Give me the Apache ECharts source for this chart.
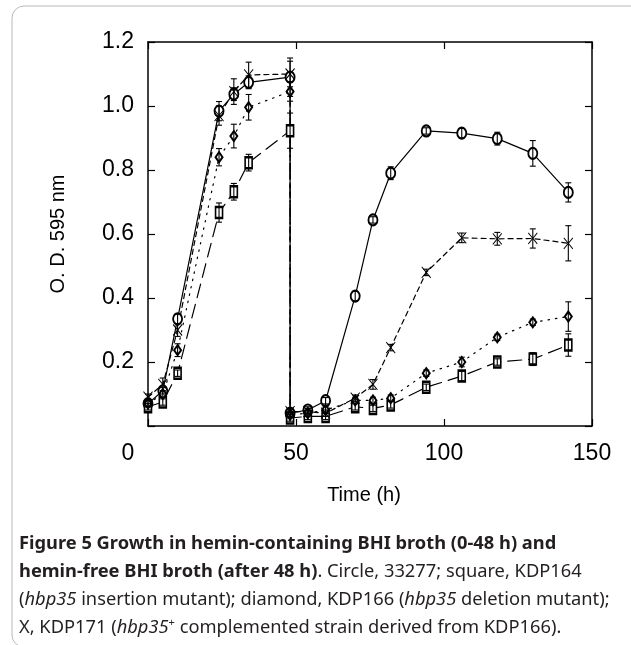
<!DOCTYPE html>
<html>
<head>
<meta charset="utf-8">
<script src="https://cdn.jsdelivr.net/npm/echarts@6/dist/echarts.min.js"></script>
<style>
html,body{margin:0;padding:0;background:#fff;}
#main{width:631px;height:645px;}
</style>
</head>
<body>
<div id="main"></div>
<script>
// Sampling times (h); 48 h appears twice: end of hemin phase and start of hemin-free phase
const times = [0, 5, 10, 24, 29, 34, 48, 48, 54, 60, 70, 76, 82, 94, 106, 118, 130, 142];

// Circle, 33277
const circleOD  = [0.07, 0.11, 0.335, 0.984, 1.037, 1.074, 1.09, 0.04, 0.05, 0.079, 0.406, 0.644, 0.79, 0.922, 0.915, 0.898, 0.852, 0.73];
const circleErr = [0.01, 0.01, 0.015, 0.03, 0.02, 0.02, 0.06, 0.01, 0.01, 0.01, 0.015, 0.01, 0.02, 0.01, 0.015, 0.02, 0.04, 0.03];

// Square, KDP164
const squareOD  = [0.06, 0.075, 0.165, 0.667, 0.732, 0.823, 0.923, 0.025, 0.03, 0.03, 0.06, 0.055, 0.066, 0.121, 0.156, 0.20, 0.209, 0.253];
const squareErr = [0.01, 0.01, 0.01, 0.03, 0.026, 0.026, 0.055, 0.01, 0.01, 0.01, 0.01, 0.01, 0.01, 0.01, 0.015, 0.01, 0.02, 0.035];

// Diamond, KDP166
const diamondOD  = [0.07, 0.10, 0.237, 0.84, 0.906, 0.996, 1.045, 0.035, 0.04, 0.05, 0.08, 0.08, 0.087, 0.165, 0.20, 0.277, 0.324, 0.342];
const diamondErr = [0.01, 0.01, 0.02, 0.027, 0.037, 0.04, 0.03, 0.01, 0.01, 0.01, 0.01, 0.01, 0.01, 0.01, 0.015, 0.01, 0.01, 0.046];

// X, KDP171
const xOD  = [0.09, 0.13, 0.30, 0.97, 1.045, 1.097, 1.10, 0.045, 0.045, 0.04, 0.087, 0.13, 0.245, 0.48, 0.588, 0.585, 0.586, 0.571];
const xErr = [0.01, 0.02, 0.02, 0.03, 0.04, 0.04, 0.04, 0.01, 0.01, 0.01, 0.01, 0.015, 0.01, 0.01, 0.015, 0.02, 0.03, 0.055];

const xTicks = [0, 50, 100, 150];
const yTicks = [0, 0.2, 0.4, 0.6, 0.8, 1.0, 1.2];

const strains = [
  {name: '33277',  od: circleOD,  err: circleErr,  symbol: 'emptyCircle',  size: [9, 11], dash: 'solid'},
  {name: 'KDP164', od: squareOD,  err: squareErr,  symbol: 'emptyRect',    size: [7, 11], dash: [14, 7]},
  {name: 'KDP166', od: diamondOD, err: diamondErr, symbol: 'emptyDiamond', size: [7, 10], dash: [1.5, 6]},
  {name: 'KDP171', od: xOD,       err: xErr,       symbol: 'path://M0,0L10,12M10,0L0,12', size: [9, 11], dash: [5, 4]}
];

const series = [];
strains.forEach(function (s) {
  series.push({
    type: 'line',
    name: s.name,
    data: times.map(function (t, i) { return [t, s.od[i]]; }),
    symbol: s.symbol,
    symbolSize: s.size,
    showAllSymbol: true,
    lineStyle: {color: '#000', width: 1.2, type: s.dash, cap: 'round'},
    itemStyle: {color: '#000', borderColor: '#000', borderWidth: 1},
    z: 2,
    animation: false
  });
  series.push({
    type: 'custom',
    name: s.name + ' err',
    data: times.map(function (t, i) { return [t, s.od[i], s.err[i]]; }),
    renderItem: function (params, api) {
      const t = api.value(0), v = api.value(1), e = api.value(2);
      const top = api.coord([t, v + e]);
      const bot = api.coord([t, v - e]);
      const cw = 3;
      const st = {stroke: '#000', lineWidth: 1.1};
      return {
        type: 'group',
        children: [
          {type: 'line', shape: {x1: top[0], y1: top[1], x2: bot[0], y2: bot[1]}, style: st},
          {type: 'line', shape: {x1: top[0] - cw, y1: top[1], x2: top[0] + cw, y2: top[1]}, style: st},
          {type: 'line', shape: {x1: bot[0] - cw, y1: bot[1], x2: bot[0] + cw, y2: bot[1]}, style: st}
        ]
      };
    },
    z: 3,
    animation: false
  });
});

const axisFont = {fontFamily: 'Liberation Sans, Arial, sans-serif', fontSize: 23, color: '#000'};
const capFont = "'Noto Sans', sans-serif";
const capSize = 18.3;
const rich = {
  b: {fontFamily: capFont, fontSize: capSize, fontWeight: 'bold', fill: '#231f20'},
  r: {fontFamily: capFont, fontSize: capSize, fill: '#231f20'},
  i: {fontFamily: capFont, fontSize: capSize, fontStyle: 'italic', fill: '#231f20'},
  s: {fontFamily: capFont, fontSize: 11, fill: '#231f20', padding: [0, 0, 10, 0]}
};
const capLines = [
  '{b|Figure 5 Growth in hemin-containing BHI broth (0-48 h) and}',
  '{b|hemin-free BHI broth (after 48 h)}{r|. Circle, 33277; square, KDP164}',
  '{r|(}{i|hbp35}{r| insertion mutant); diamond, KDP166 (}{i|hbp35}{r| deletion mutant);}',
  '{r|X, KDP171 (}{i|hbp35}{s|+}{r| complemented strain derived from KDP166).}'
];
const capY = [544, 572, 600, 627.5];

const tickStyle = {show: true, inside: true, length: 7, lineStyle: {color: '#000', width: 1.2}};
const lineStyleAxis = {show: true, onZero: false, lineStyle: {color: '#000', width: 1.5}};

const chart = echarts.init(document.getElementById('main'), null, {renderer: 'canvas'});
chart.setOption({
  backgroundColor: '#fff',
  animation: false,
  grid: {left: 148, right: 39, top: 42, bottom: 219, show: false},
  xAxis: [{
    type: 'value', position: 'bottom', min: xTicks[0], max: xTicks[xTicks.length - 1], interval: 50,
    name: 'Time (h)', nameLocation: 'middle', nameGap: 59,
    nameTextStyle: {fontFamily: 'Liberation Sans, Arial, sans-serif', fontSize: 20, color: '#000', padding: [0, 12, 0, 0]},
    axisLine: lineStyleAxis,
    axisTick: tickStyle,
    splitLine: {show: false},
    axisLabel: Object.assign({}, axisFont, {
      margin: 16,
      formatter: function (v) { return v === 0 ? '{z|0}' : String(v); },
      rich: {z: {fontFamily: 'Liberation Sans, Arial, sans-serif', fontSize: 23, color: '#000', padding: [0, 40, 0, 0]}}
    })
  }, {
    type: 'value', position: 'top', min: xTicks[0], max: xTicks[xTicks.length - 1], interval: 50,
    axisLine: lineStyleAxis,
    axisTick: tickStyle,
    axisLabel: {show: false}, splitLine: {show: false}
  }],
  yAxis: [{
    type: 'value', position: 'left', min: yTicks[0], max: yTicks[yTicks.length - 1], interval: 0.2,
    name: 'O. D. 595 nm', nameLocation: 'middle', nameGap: 80, nameRotate: 90,
    nameTextStyle: {fontFamily: 'Liberation Sans, Arial, sans-serif', fontSize: 20, color: '#000'},
    axisLine: lineStyleAxis,
    axisTick: tickStyle,
    splitLine: {show: false},
    axisLabel: Object.assign({}, axisFont, {
      margin: 14,
      formatter: function (v) { return v === 0 ? '' : v.toFixed(1); }
    })
  }, {
    type: 'value', position: 'right', min: yTicks[0], max: yTicks[yTicks.length - 1], interval: 0.2,
    axisLine: lineStyleAxis,
    axisTick: tickStyle,
    axisLabel: {show: false}, splitLine: {show: false}
  }],
  graphic: [
    {type: 'rect', shape: {x: 12, y: 6, width: 660, height: 641, r: 12},
     style: {fill: 'none', stroke: '#b8b8b8', lineWidth: 1}, silent: true, z: -10}
  ].concat(capLines.map(function (txt, i) {
    return {type: 'text', x: 19, y: capY[i],
      style: {text: txt, rich: rich, verticalAlign: 'middle', align: 'left', fill: '#231f20',
              fontFamily: capFont, fontSize: capSize}};
  })),
  series: series
});
</script>
</body>
</html>
